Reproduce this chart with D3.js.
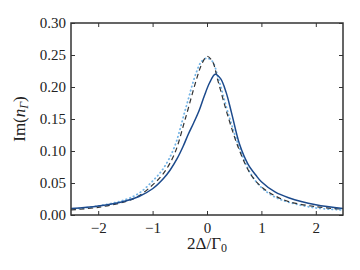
<!DOCTYPE html>
<html>
<head>
<meta charset="utf-8">
<script src="https://cdn.jsdelivr.net/npm/d3@7"></script>
<style>
  body { margin: 0; background: #fff; }
  text { font-family: "Liberation Serif", "DejaVu Serif", serif; fill: #222; }
</style>
</head>
<body>
<script>
// values
var xs = [-2.5, -2.0, -1.5, -1.25, -1.0, -0.8, -0.68, -0.55, -0.44, -0.35, -0.25, -0.15, -0.05, 0.05, 0.15, 0.25, 0.35, 0.45, 0.6, 0.75, 0.9, 1.0, 1.25, 1.5, 2.0, 2.5];
var solid = [0.010, 0.014, 0.022, 0.029, 0.041, 0.057, 0.070, 0.088, 0.107, 0.125, 0.143, 0.162, 0.186, 0.207, 0.220, 0.213, 0.192, 0.160, 0.110, 0.080, 0.062, 0.052, 0.036, 0.027, 0.016, 0.010];

var xs2 = [-2.5, -2.0, -1.5, -1.25, -1.0, -0.8, -0.6, -0.4, -0.2, -0.1, 0.0, 0.1, 0.2, 0.4, 0.6, 0.8, 1.0, 1.25, 1.5, 2.0, 2.5];
var dashed = [0.008, 0.012, 0.021, 0.030, 0.047, 0.065, 0.095, 0.150, 0.210, 0.235, 0.248, 0.240, 0.210, 0.150, 0.100, 0.064, 0.044, 0.030, 0.021, 0.013, 0.009];
var dotted = [0.009, 0.014, 0.024, 0.034, 0.053, 0.073, 0.106, 0.164, 0.222, 0.240, 0.245, 0.240, 0.216, 0.156, 0.104, 0.065, 0.043, 0.028, 0.020, 0.011, 0.008];

var xTicks = [-2, -1, 0, 1, 2];
var yTicks = [0, 0.05, 0.10, 0.15, 0.20, 0.25, 0.30];

var width = 360, height = 270;
var margin = {left: 71, right: 17, top: 23, bottom: 55};

var svg = d3.select("body").append("svg").attr("width", width).attr("height", height);

var x = d3.scaleLinear().domain([-2.5, 2.5]).range([margin.left, width - margin.right]);
var y = d3.scaleLinear().domain([0, 0.30]).range([height - margin.bottom, margin.top]);

var line = d3.line().x(function(d) { return x(d[0]); }).y(function(d) { return y(d[1]); }).curve(d3.curveCatmullRom.alpha(0.5));

svg.append("clipPath").attr("id", "clip").append("rect")
  .attr("x", x(-2.5)).attr("y", y(0.30)).attr("width", x(2.5) - x(-2.5)).attr("height", y(0) - y(0.30));

var plot = svg.append("g").attr("clip-path", "url(#clip)");

plot.append("path").datum(d3.zip(xs2, dotted))
  .attr("d", line).attr("fill", "none").attr("stroke", "#74b4e6")
  .attr("stroke-width", 1.8).attr("stroke-dasharray", "0.5,3.5").attr("stroke-linecap", "round");

plot.append("path").datum(d3.zip(xs2, dashed))
  .attr("d", line).attr("fill", "none").attr("stroke", "#333")
  .attr("stroke-width", 1.2).attr("stroke-dasharray", "5,3.5");

plot.append("path").datum(d3.zip(xs, solid))
  .attr("d", line).attr("fill", "none").attr("stroke", "#1c4a8c")
  .attr("stroke-width", 1.5);

// axes, ticks pointing inward on all four sides
var tl = 4;
svg.append("g").attr("transform", "translate(0," + y(0) + ")")
  .call(d3.axisBottom(x).tickValues(xTicks).tickSizeInner(-tl).tickSizeOuter(0).tickPadding(7)
    .tickFormat(function(d) { return d < 0 ? "\u2212" + Math.abs(d) : d; }));
svg.append("g").attr("transform", "translate(0," + y(0.30) + ")")
  .call(d3.axisTop(x).tickValues(xTicks).tickSizeInner(-tl).tickSizeOuter(0).tickFormat(""));
svg.append("g").attr("transform", "translate(" + x(-2.5) + ",0)")
  .call(d3.axisLeft(y).tickValues(yTicks).tickSizeInner(-tl).tickSizeOuter(0).tickPadding(5)
    .tickFormat(d3.format(".2f")));
svg.append("g").attr("transform", "translate(" + x(2.5) + ",0)")
  .call(d3.axisRight(y).tickValues(yTicks).tickSizeInner(-tl).tickSizeOuter(0).tickFormat(""));

svg.selectAll(".tick line").attr("stroke", "#333").attr("stroke-width", 1);
svg.selectAll(".tick text").attr("font-size", 15).attr("fill", "#222");
svg.selectAll(".domain").remove();

svg.append("rect")
  .attr("x", x(-2.5)).attr("y", y(0.30)).attr("width", x(2.5) - x(-2.5)).attr("height", y(0) - y(0.30))
  .attr("fill", "none").attr("stroke", "#333").attr("stroke-width", 1.5);

// axis labels
var xl = svg.append("text").attr("x", x(0)).attr("y", 249).attr("text-anchor", "middle").attr("font-size", 17);
xl.append("tspan").text("2\u0394/\u0393");
xl.append("tspan").attr("font-size", 12).attr("dy", 3).text("0");

var yl = svg.append("text").attr("transform", "translate(25," + y(0.15) + ") rotate(-90)")
  .attr("text-anchor", "middle").attr("font-size", 17);
yl.append("tspan").text("Im(");
yl.append("tspan").attr("font-style", "italic").text("n");
yl.append("tspan").attr("font-style", "italic").attr("font-size", 12).attr("dy", 3).text("\u0393");
yl.append("tspan").attr("dy", -3).text(")");
</script>
</body>
</html>
